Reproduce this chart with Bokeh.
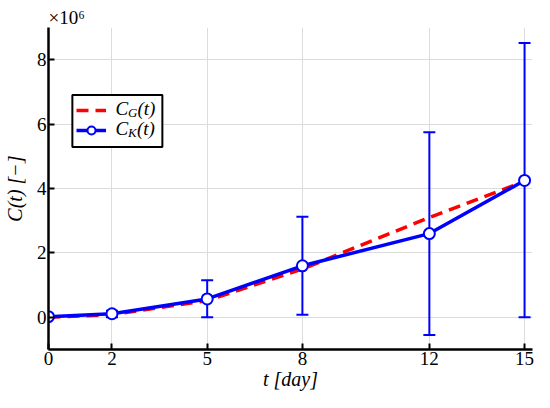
from bokeh.plotting import figure
from bokeh.models import (ColumnDataSource, Whisker, TeeHead, FixedTicker,
                          CustomJSTickFormatter, Legend, LegendItem, Range1d)
from bokeh.core.properties import value
from bokeh.embed import file_html
from bokeh.resources import INLINE

# ---- data ----
t_days = [0, 2, 5, 8, 12, 15]
c_g = [0.0, 0.08e6, 0.52e6, 1.50e6, 3.10e6, 4.22e6]
c_k = [0.02e6, 0.11e6, 0.57e6, 1.60e6, 2.60e6, 4.25e6]
c_k_lower = [0.0, 0.0, 0.0, 0.08e6, -0.55e6, 0.0]
c_k_upper = [0.04e6, 0.20e6, 1.15e6, 3.12e6, 5.75e6, 8.52e6]
x_ticks = [0, 2, 5, 8, 12, 15]
y_ticks = [0, 2e6, 4e6, 6e6, 8e6]
legend_subs = ["G", "K"]

FONT = "Liberation Serif"
BLUE = "#0000FF"
RED = "#FF0000"

src = ColumnDataSource(dict(t=t_days, g=c_g, k=c_k, lo=c_k_lower, hi=c_k_upper))

p = figure(width=534, height=392, output_backend="svg", toolbar_location=None,
           x_range=Range1d(0, 15.25), y_range=Range1d(-1e6, 9e6),
           min_border_left=30, min_border_right=2, min_border_top=27,
           min_border_bottom=10)
p.outline_line_color = None
p.background_fill_color = "white"
p.border_fill_color = "white"

# axes
for ax in (p.xaxis[0], p.yaxis[0]):
    ax.axis_line_width = 2.5
    ax.axis_line_color = "black"
    ax.major_tick_in = 6
    ax.major_tick_out = 0
    ax.major_tick_line_width = 2
    ax.minor_tick_line_color = None
    ax.major_label_text_font = FONT
    ax.major_label_text_font_size = "19px"
    ax.major_label_text_color = "black"
    ax.axis_label_text_font = FONT
    ax.axis_label_text_font_size = "20px"
    ax.axis_label_text_font_style = "italic"
    ax.axis_label_text_color = "black"
    ax.major_label_standoff = 2

p.xaxis.ticker = FixedTicker(ticks=x_ticks)
p.yaxis.ticker = FixedTicker(ticks=y_ticks)
p.yaxis.formatter = CustomJSTickFormatter(code="return (tick/1e6).toFixed(0);")
p.xaxis.axis_label = "t [day]"
p.yaxis.axis_label = "C(t) [\u2212]"
p.xaxis.axis_label_standoff = 0
p.yaxis.axis_label_standoff = 8

p.xgrid.ticker = FixedTicker(ticks=x_ticks)
p.ygrid.ticker = FixedTicker(ticks=y_ticks)
p.grid.grid_line_color = "#dcdcdc"
p.grid.grid_line_width = 1

# glyphs
r_g = p.line("t", "g", source=src, line_color=RED, line_width=3.5, line_dash="12 7")
wh = Whisker(base="t", lower="lo", upper="hi", source=src, line_color=BLUE, line_width=2,
             upper_head=TeeHead(size=12, line_color=BLUE, line_width=2),
             lower_head=TeeHead(size=12, line_color=BLUE, line_width=2))
p.add_layout(wh)
r_k = p.line("t", "k", source=src, line_color=BLUE, line_width=3.5)
r_c = p.scatter("t", "k", source=src, marker="circle", size=11, fill_color="white",
                line_color=BLUE, line_width=2)

# legend box (white, black border) drawn as a screen-sized rect glyph
p.rect(x=[2.17], y=[6.1e6], width=90, height=52, width_units="screen",
       height_units="screen", fill_color="white", line_color="black", line_width=2,
       level="overlay")

# legend texts with subscripts
lx = [2.11, 2.11]
ly = [6.48e6, 5.86e6]
common = dict(text_font=value(FONT), text_font_style="italic", text_color="black",
              text_baseline="middle", level="overlay")
p.text(x=lx, y=ly, text=["C", "C"], text_font_size="19px", **common)
p.text(x=lx, y=ly, text=legend_subs, x_offset=12.5, y_offset=4,
       text_font_size="13px", **common)
p.text(x=lx, y=ly, text=["(t)", "(t)"], x_offset=[22.0, 21.5],
       text_font_size="19px", **common)

# legend-only glyph for error bar sample
empty = ColumnDataSource(dict(x=[], y=[]))
r_bar = p.scatter("x", "y", source=empty, marker="dash", angle=1.5708, size=16,
                  line_color=BLUE, line_width=2)

legend = Legend(items=[LegendItem(label=" ", renderers=[r_g]),
                       LegendItem(label=" ", renderers=[r_bar, r_k, r_c])],
                location=(28, 209), padding=5, spacing=0, glyph_width=30,
                glyph_height=20, label_height=20, label_width=45, label_standoff=5,
                border_line_color=None, background_fill_alpha=0.0, margin=0)
p.add_layout(legend, "center")

# x10^6 multiplier above the y axis
p.text(x=[0], y=[9e6], text=["\u00d710\u2076"], text_font=value(FONT),
       text_font_size="19px", text_color="black", text_baseline="bottom",
       y_offset=0, level="overlay")

open("out.html", "w").write(file_html(p, INLINE))
